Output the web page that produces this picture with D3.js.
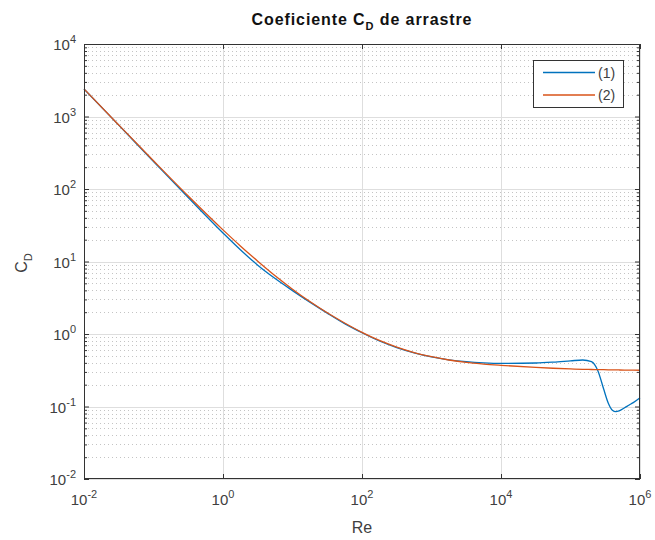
<!DOCTYPE html>
<html><head><meta charset="utf-8">
<script src="https://cdn.jsdelivr.net/npm/d3@7"></script>
<style>body{margin:0;background:#fff}svg{display:block}</style>
</head><body><svg id="chart" width="655" height="540"></svg>
<script>
// ---- data ----
const reynolds = [0.01, 0.0316, 0.1, 0.316, 1, 1.778, 3.162, 5.623, 10, 17.78, 31.62, 56.23, 100, 177.8, 316.2, 562.3, 1000, 1778, 3162, 5623, 1e4, 3.162e4, 5.623e4, 1e5, 1.5e5, 2e5, 2.5e5, 3e5, 3.5e5, 4e5, 4.5e5, 5e5, 6e5, 7e5, 8e5, 1e6];
const cdSeries1 = [2400, 760, 240, 76.2, 24.7, 14.5, 8.9, 5.82, 3.97, 2.75, 1.94, 1.39, 1.04, 0.80, 0.65, 0.55, 0.484, 0.441, 0.415, 0.400, 0.393, 0.398, 0.409, 0.426, 0.438, 0.416, 0.305, 0.174, 0.111, 0.089, 0.085, 0.087, 0.096, 0.105, 0.113, 0.132];
const cdSeries2 = [2406, 765, 245, 80.0, 27.3, 16.4, 10.1, 6.36, 4.15, 2.80, 1.96, 1.42, 1.055, 0.815, 0.66, 0.555, 0.487, 0.438, 0.405, 0.385, 0.370, 0.346, 0.337, 0.330, 0.326, 0.324, 0.323, 0.322, 0.321, 0.320, 0.320, 0.319, 0.318, 0.318, 0.317, 0.316];
const seriesNames = ["(1)", "(2)"];
const seriesColors = ["#0072BD", "#D95319"];
const xTickValues = [1e-2, 1e0, 1e2, 1e4, 1e6];
const xTickExponents = ["-2", "0", "2", "4", "6"];
const yTickValues = [1e-2, 1e-1, 1e0, 1e1, 1e2, 1e3, 1e4];
const yTickExponents = ["-2", "-1", "0", "1", "2", "3", "4"];
const minorMultipliers = [2, 3, 4, 5, 6, 7, 8, 9];

// ---- layout ----
const svg = d3.select("#chart");
const L = 84, R = 640, T = 44, B = 479;
const font = "'Liberation Sans', Arial, Helvetica, sans-serif";
const x = d3.scaleLog().domain([1e-2, 1e6]).range([L, R]);
const y = d3.scaleLog().domain([1e-2, 1e4]).range([B, T]);

svg.append("rect").attr("width", 655).attr("height", 540).attr("fill", "#fff");
svg.append("rect").attr("x", L).attr("y", T).attr("width", R - L).attr("height", B - T).attr("fill", "#fff");

const yMinor = [];
yTickValues.slice(0, -1).forEach(v => minorMultipliers.forEach(m => yMinor.push(v * m)));

// grid
const grid = svg.append("g");
grid.selectAll(".ymin").data(yMinor).join("line")
  .attr("x1", L).attr("x2", R).attr("y1", d => Math.round(y(d)) + 0.5).attr("y2", d => Math.round(y(d)) + 0.5)
  .attr("stroke", "#c4c4c4").attr("stroke-width", 1).attr("stroke-dasharray", "1,3");
grid.selectAll(".ymaj").data(yTickValues).join("line")
  .attr("x1", L).attr("x2", R).attr("y1", d => Math.round(y(d)) + 0.5).attr("y2", d => Math.round(y(d)) + 0.5)
  .attr("stroke", "#dedede").attr("stroke-width", 1);
grid.selectAll(".xmaj").data(xTickValues).join("line")
  .attr("y1", T).attr("y2", B).attr("x1", d => Math.round(x(d)) + 0.5).attr("x2", d => Math.round(x(d)) + 0.5)
  .attr("stroke", "#dedede").attr("stroke-width", 1);

// lines
const line = d3.line().x(d => x(d[0])).y(d => y(d[1])).curve(d3.curveMonotoneX);
[cdSeries1, cdSeries2].forEach((s, i) => {
  svg.append("path").datum(reynolds.map((r, j) => [r, s[j]]))
    .attr("d", line).attr("fill", "none").attr("stroke", seriesColors[i]).attr("stroke-width", 1.3);
});

// axes (ticks inward)
const axColor = "#333";
function styleAxis(g) {
  g.select(".domain").remove();
  g.selectAll("line").attr("stroke", axColor);
  g.selectAll("text").remove();
}
svg.append("g").attr("transform", `translate(0,${B})`).call(d3.axisBottom(x).tickValues(xTickValues).tickSize(-5).tickFormat("")).call(styleAxis);
svg.append("g").attr("transform", `translate(0,${T})`).call(d3.axisTop(x).tickValues(xTickValues).tickSize(-5).tickFormat("")).call(styleAxis);
svg.append("g").attr("transform", `translate(${L},0)`).call(d3.axisLeft(y).tickValues(yTickValues).tickSize(-5).tickFormat("")).call(styleAxis);
svg.append("g").attr("transform", `translate(${R},0)`).call(d3.axisRight(y).tickValues(yTickValues).tickSize(-5).tickFormat("")).call(styleAxis);
svg.append("g").attr("transform", `translate(${L},0)`).call(d3.axisLeft(y).tickValues(yMinor).tickSize(-3).tickFormat("")).call(styleAxis);
svg.append("g").attr("transform", `translate(${R},0)`).call(d3.axisRight(y).tickValues(yMinor).tickSize(-3).tickFormat("")).call(styleAxis);

svg.append("rect").attr("x", L + 0.5).attr("y", T + 0.5).attr("width", R - L - 1).attr("height", B - T - 1)
  .attr("fill", "none").attr("stroke", axColor).attr("stroke-width", 1);

// tick labels
const labColor = "#404040";
const xl = svg.append("g").attr("font-family", font).attr("font-size", 15).attr("fill", labColor);
xTickValues.forEach((v, i) => {
  const t = xl.append("text").attr("x", x(v)).attr("y", 505).attr("text-anchor", "middle");
  t.append("tspan").text("10");
  t.append("tspan").attr("dy", -7).attr("font-size", 11).text(xTickExponents[i]);
});
const yl = svg.append("g").attr("font-family", font).attr("font-size", 15).attr("fill", labColor);
yTickValues.forEach((v, i) => {
  const t = yl.append("text").attr("x", 76).attr("y", y(v) + 6).attr("text-anchor", "end");
  t.append("tspan").text("10");
  t.append("tspan").attr("dy", -7).attr("font-size", 11).text(yTickExponents[i]);
});

// axis titles
svg.append("text").attr("x", (L + R) / 2).attr("y", 533).attr("text-anchor", "middle")
  .attr("font-family", font).attr("font-size", 16).attr("fill", labColor).text("Re");
const yt = svg.append("text").attr("transform", "translate(27,263) rotate(-90)").attr("text-anchor", "middle")
  .attr("font-family", font).attr("font-size", 16).attr("fill", labColor);
yt.append("tspan").text("C");
yt.append("tspan").attr("dy", 5).attr("font-size", 11).text("D");

// title
const tt = svg.append("text").attr("x", (L + R) / 2).attr("y", 25).attr("text-anchor", "middle")
  .attr("font-family", font).attr("font-size", 16).attr("font-weight", "bold").attr("fill", "#111")
  .attr("letter-spacing", 0.9);
tt.append("tspan").text("Coeficiente C");
tt.append("tspan").attr("dy", 5).attr("font-size", 11).text("D");
tt.append("tspan").attr("dy", -5).text(" de arrastre");

// legend
const lg = svg.append("g");
lg.append("rect").attr("x", 533.5).attr("y", 60.5).attr("width", 90).attr("height", 47)
  .attr("fill", "#fff").attr("stroke", axColor).attr("stroke-width", 1);
seriesNames.forEach((n, i) => {
  const yy = 72.5 + i * 22.5;
  lg.append("line").attr("x1", 543).attr("x2", 595).attr("y1", yy).attr("y2", yy)
    .attr("stroke", seriesColors[i]).attr("stroke-width", 1.3);
  lg.append("text").attr("x", 598).attr("y", yy + 5).attr("font-family", font).attr("font-size", 14)
    .attr("fill", labColor).text(n);
});
</script></body></html>
